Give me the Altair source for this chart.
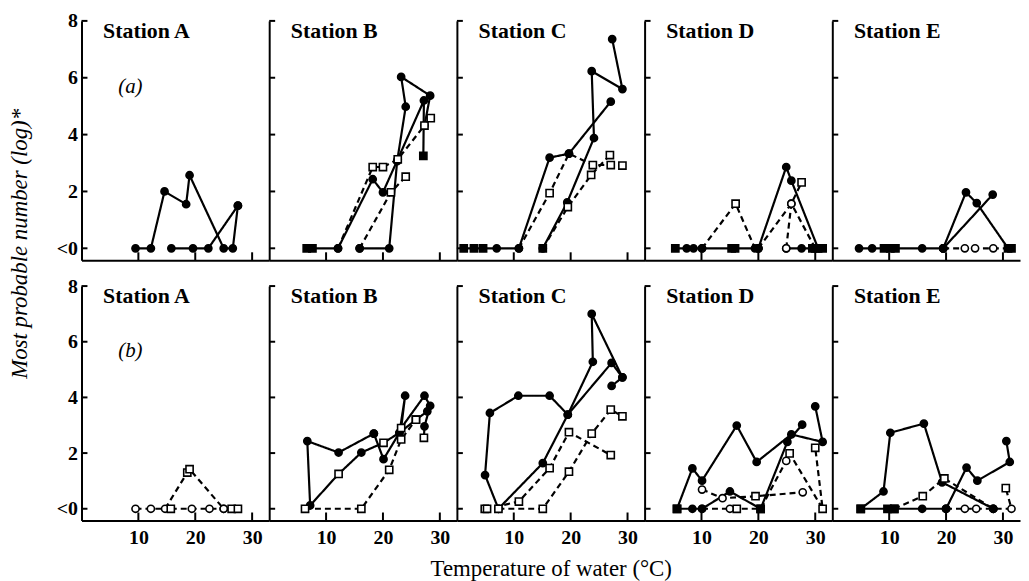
import altair as alt
import pandas as pd

SERIF = "Liberation Serif"
STATIONS = ["A", "B", "C", "D", "E"]
PARTS = ["a", "b"]
PART_LABELS = ["(a)", "(b)"]
X_TICKS = [10, 20, 30]
Y_TICKS = [0, 2, 4, 6, 8]
X_LABEL = "Temperature of water (°C)"
Y_LABEL = "Most probable number (log)*"

# ---------------- (a) row ----------------
aA1_x = [9.5, 12.2, 14.6, 18.4, 19.0, 25.0, 26.6, 27.5]
aA1_y = [0, 0, 2.0, 1.55, 2.57, 0, 0, 1.5]
aA2_x = [15.8, 19.6, 22.3, 27.5]
aA2_y = [0, 0, 0, 1.5]

aB1_x = [6.6, 7.6, 12.1, 18.2, 20.0, 22.6, 27.2, 27.1]
aB1_y = [0, 0, 0, 2.43, 1.97, 3.13, 5.2, 3.25]
aB1_m = ["fs", "fs", "fc", "fc", "fc", "fc", "fc", "fs"]
aB2_x = [15.9, 21.1, 22.5, 24.0, 23.2, 28.3, 27.3]
aB2_y = [0, 0, 3.07, 4.98, 6.03, 5.37, 4.32]
aB3_x = [12.1, 18.2, 20.0, 22.6, 27.3, 28.4]
aB3_y = [0, 2.86, 2.86, 3.13, 4.32, 4.58]
aB3_m = ["fc", "os", "os", "os", "os", "os"]
aB4_x = [15.9, 21.4, 24.0]
aB4_y = [0, 1.97, 2.52]
aB4_m = ["fc", "os", "os"]

aC1_x = [1.2, 3.0, 4.6, 7.0, 10.9, 16.3, 19.7, 27.05]
aC1_y = [0, 0, 0, 0, 0, 3.19, 3.33, 5.16]
aC1_m = ["fs", "fs", "fs", "fc", "fc", "fc", "fc", "fc"]
aC2_x = [15.1, 19.4, 24.1, 23.7, 29.1, 27.3]
aC2_y = [0, 1.62, 3.88, 6.23, 5.6, 7.36]
aC3_x = [10.9, 16.3, 19.7, 23.9, 27.05, 29.1]
aC3_y = [0, 1.94, 3.33, 2.93, 2.93, 2.91]
aC3_m = ["fc", "os", "fc", "os", "os", "os"]
aC4_x = [15.1, 19.5, 23.6, 26.9]
aC4_y = [0, 1.45, 2.58, 3.28]
aC4_m = ["fs", "os", "os", "os"]

aD1_x = [5.4, 7.4, 8.6, 10.1, 15.3, 15.9, 20.0]
aD1_y = [0, 0, 0, 0, 0, 0, 0]
aD1_m = ["fs", "fc", "fc", "fc", "fs", "fs", "fc"]
aD2_x = [20.0, 24.9, 25.8, 30.5, 31.3]
aD2_y = [0, 2.86, 2.38, 0, 0]
aD2_m = ["fc", "fc", "fc", "fs", "fs"]
aD3_x = [10.1, 16.0, 19.4]
aD3_y = [0, 1.57, 0]
aD3_m = ["fc", "os", "fc"]
aD4_x = [20.0, 25.8, 27.6]
aD4_y = [0, 1.57, 2.32]
aD4_m = ["fc", "oc", "os"]
aD5_x = [24.9, 25.8, 30.0]
aD5_y = [0, 1.57, 0]
aD5_m = ["oc", "oc", "fs"]
aD6_x = [24.9, 27.6, 29.5]
aD6_y = [0, 0, 0]
aD6_m = ["oc", "fc", "fs"]

aE1_x = [4.7, 7.0, 9.1, 10.2, 11.1, 15.8, 19.5]
aE1_y = [0, 0, 0, 0, 0, 0, 0]
aE1_m = ["fc", "fc", "fs", "fs", "fs", "fc", "fc"]
aE2_x = [19.5, 23.5, 25.4, 30.9]
aE2_y = [0, 1.97, 1.59, 0]
aE2_m = ["fc", "fc", "fc", "fs"]
aE3_x = [19.5, 28.2]
aE3_y = [0, 1.89]
aE4_x = [19.5, 23.3, 25.1, 28.3, 31.5]
aE4_y = [0, 0, 0, 0, 0]
aE4_m = ["fc", "oc", "oc", "oc", "fs"]

# ---------------- (b) row ----------------
bA1_x = [9.5, 12.2, 14.7, 18.6, 19.0, 25.0, 26.4, 27.5]
bA1_y = [0, 0, 0, 1.30, 1.42, 0, 0, 0]
bA1_m = ["oc", "oc", "oc", "os", "os", "oc", "os", "os"]
bA2_x = [15.7, 19.4, 22.5, 25.0]
bA2_y = [0, 0, 0, 0]
bA2_m = ["os", "oc", "oc", "oc"]

bB1_x = [18.4, 12.2, 6.7, 7.2, 12.2, 16.2, 20.1, 22.9, 25.8, 27.8]
bB1_y = [2.70, 2.02, 2.43, 0.12, 1.25, 2.02, 2.37, 2.73, 3.20, 3.50]
bB1_m = ["fc", "fc", "fc", "fc", "os", "fc", "os", "fc", "os", "fc"]
bB2_x = [18.4, 20.1, 22.9, 23.9, 23.2, 27.3, 28.3, 27.3, 27.2]
bB2_y = [2.70, 1.78, 2.73, 4.06, 2.90, 4.06, 3.70, 2.96, 2.55]
bB2_m = ["fc", "fc", "fc", "fc", "os", "fc", "fc", "fc", "os"]
bB3_x = [6.3, 16.2, 21.1, 23.2, 25.8]
bB3_y = [0, 0, 1.40, 2.49, 3.20]

bC1_x = [7.3, 4.95, 5.8, 10.8, 16.3, 19.5, 27.2, 29.1, 27.2]
bC1_y = [0, 1.21, 3.44, 4.06, 4.06, 3.38, 5.24, 4.72, 4.41]
bC2_x = [7.3, 15.1, 19.5, 23.9, 23.7, 29.1]
bC2_y = [0, 1.64, 3.38, 5.28, 7.0, 4.72]
bC3_x = [4.9, 5.3, 10.9, 16.3, 19.7, 27.05]
bC3_y = [0, 0, 0.26, 1.46, 2.75, 1.93]
bC4_x = [7.3, 15.1, 19.7, 23.7, 27.05, 29.1]
bC4_y = [0, 0, 1.33, 2.70, 3.56, 3.32]

bD1_x = [5.7, 8.4, 10.1, 16.2, 19.7, 25.8, 31.3, 30.0]
bD1_y = [0, 1.45, 1.01, 2.99, 1.68, 2.67, 2.40, 3.68]
bD1_m = ["fs", "fc", "fc", "fc", "fc", "fc", "fc", "fc"]
bD2_x = [5.7, 8.4, 10.1, 15.0, 20.4, 25.1, 27.7]
bD2_y = [0, 0, 0, 0.62, 0, 2.40, 3.02]
bD2_m = ["fs", "fc", "fc", "fc", "fs", "fc", "fc"]
bD3_x = [10.1, 13.7, 19.5, 27.8]
bD3_y = [0.69, 0.38, 0.45, 0.59]
bD3_m = ["oc", "oc", "os", "oc"]
bD4_x = [10.1, 15.0, 16.2, 20.4, 24.9, 25.5, 31.3, 30.0]
bD4_y = [0, 0, 0, 0, 1.72, 1.99, 0, 2.19]
bD4_m = ["fc", "oc", "os", "fs", "oc", "os", "os", "os"]

bE1_x = [5.0, 9.0, 10.2, 16.1, 19.3, 28.3]
bE1_y = [0, 0.62, 2.73, 3.06, 0.95, 0]
bE1_m = ["fs", "fc", "fc", "fc", "fc", "fc"]
bE2_x = [20.0, 23.6, 25.5, 31.2, 30.6]
bE2_y = [0, 1.48, 1.01, 1.68, 2.43]
bE3_x = [5.0, 9.7, 10.9, 15.8, 20.0]
bE3_y = [0, 0, 0, 0, 0]
bE3_m = ["fs", "fs", "fs", "fc", "fc"]
bE4_x = [10.9, 15.9, 19.7, 28.3]
bE4_y = [0, 0.45, 1.09, 0]
bE4_m = ["fs", "os", "os", "fc"]
bE5_x = [20.0, 23.3, 25.3, 28.3, 31.5, 30.5]
bE5_y = [0, 0, 0, 0, 0, 0.74]
bE5_m = ["fc", "oc", "oc", "fc", "oc", "os"]

SERIES = [
    ("a", "A", "solid", "fc", aA1_x, aA1_y),
    ("a", "A", "solid", "fc", aA2_x, aA2_y),
    ("a", "B", "solid", aB1_m, aB1_x, aB1_y),
    ("a", "B", "solid", "fc", aB2_x, aB2_y),
    ("a", "B", "dashed", aB3_m, aB3_x, aB3_y),
    ("a", "B", "dashed", aB4_m, aB4_x, aB4_y),
    ("a", "C", "solid", aC1_m, aC1_x, aC1_y),
    ("a", "C", "solid", "fc", aC2_x, aC2_y),
    ("a", "C", "dashed", aC3_m, aC3_x, aC3_y),
    ("a", "C", "dashed", aC4_m, aC4_x, aC4_y),
    ("a", "D", "solid", aD1_m, aD1_x, aD1_y),
    ("a", "D", "solid", aD2_m, aD2_x, aD2_y),
    ("a", "D", "dashed", aD3_m, aD3_x, aD3_y),
    ("a", "D", "dashed", aD4_m, aD4_x, aD4_y),
    ("a", "D", "dashed", aD5_m, aD5_x, aD5_y),
    ("a", "D", "solid", aD6_m, aD6_x, aD6_y),
    ("a", "E", "solid", aE1_m, aE1_x, aE1_y),
    ("a", "E", "solid", aE2_m, aE2_x, aE2_y),
    ("a", "E", "solid", "fc", aE3_x, aE3_y),
    ("a", "E", "dashed", aE4_m, aE4_x, aE4_y),
    ("b", "A", "dashed", bA1_m, bA1_x, bA1_y),
    ("b", "A", "dashed", bA2_m, bA2_x, bA2_y),
    ("b", "B", "solid", bB1_m, bB1_x, bB1_y),
    ("b", "B", "solid", bB2_m, bB2_x, bB2_y),
    ("b", "B", "dashed", "os", bB3_x, bB3_y),
    ("b", "C", "solid", "fc", bC1_x, bC1_y),
    ("b", "C", "solid", "fc", bC2_x, bC2_y),
    ("b", "C", "dashed", "os", bC3_x, bC3_y),
    ("b", "C", "dashed", "os", bC4_x, bC4_y),
    ("b", "D", "solid", bD1_m, bD1_x, bD1_y),
    ("b", "D", "solid", bD2_m, bD2_x, bD2_y),
    ("b", "D", "dashed", bD3_m, bD3_x, bD3_y),
    ("b", "D", "dashed", bD4_m, bD4_x, bD4_y),
    ("b", "E", "solid", bE1_m, bE1_x, bE1_y),
    ("b", "E", "solid", "fc", bE2_x, bE2_y),
    ("b", "E", "solid", bE3_m, bE3_x, bE3_y),
    ("b", "E", "dashed", bE4_m, bE4_x, bE4_y),
    ("b", "E", "dashed", bE5_m, bE5_x, bE5_y),
]

rows = []
for k, (part, st, style, mk, xs_, ys_) in enumerate(SERIES):
    marks = mk if isinstance(mk, list) else [mk] * len(xs_)
    for i, (xv, yv, m) in enumerate(zip(xs_, ys_, marks)):
        rows.append(dict(part=part, station=st, sid=f"s{k}", style=style,
                         marker=m, seq=i, x=xv, y=yv))
df = pd.DataFrame(rows)

W = 189
HEIGHTS = [241, 236]
XDOM = [0, 33]
YDOM = [-0.42, 8]


def panel(pi, si):
    part = PARTS[pi]
    st = STATIONS[si]
    h = HEIGHTS[pi]
    d = df[(df.part == part) & (df.station == st)]
    xs = alt.Scale(domain=XDOM, nice=False, zero=False)
    ys = alt.Scale(domain=YDOM, nice=False, zero=False)

    xkw = dict(values=X_TICKS, ticks=False, grid=False, labels=(pi == 1),
               labelPadding=7, labelFlush=False)
    xtitle = None
    if pi == 1 and st == "C":
        xtitle = X_LABEL
        xkw.update(titleY=55, titleBaseline="alphabetic")
    ykw = dict(values=Y_TICKS, ticks=False, grid=False, labels=(si == 0),
               labelPadding=4, labelFlush=False,
               labelExpr="datum.value == 0 ? '<0' : datum.label")
    ytitle = None
    if si == 0 and pi == 0:
        ytitle = Y_LABEL
        ykw.update(titleX=-62, titleY=224, titleAngle=270,
                   titleBaseline="middle", titleAlign="center",
                   titleFontStyle="italic")

    def X(field="x:Q"):
        return alt.X(field, scale=xs, axis=alt.Axis(**xkw), title=xtitle)

    def Y(field="y:Q"):
        return alt.Y(field, scale=ys, axis=alt.Axis(**ykw), title=ytitle)

    def XD(v):
        return alt.XDatum(v, scale=xs, axis=alt.Axis(**xkw), title=xtitle)

    def YD(v):
        return alt.YDatum(v, scale=ys, axis=alt.Axis(**ykw), title=ytitle)

    line = alt.Chart(d).mark_line(color="black", strokeWidth=2.2).encode(
        x=X(), y=Y(),
        detail="sid:N",
        order="seq:Q",
        strokeDash=alt.StrokeDash(
            "style:N",
            scale=alt.Scale(domain=["solid", "dashed"], range=[[1, 0], [6, 4]]),
            legend=None),
    )
    pts = alt.Chart(d).mark_point(filled=True, stroke="black", strokeWidth=1.6,
                                  size=52, opacity=1).encode(
        x=X(), y=Y(),
        shape=alt.Shape("marker:N", scale=alt.Scale(
            domain=["fc", "fs", "os", "oc"],
            range=["circle", "square", "square", "circle"]), legend=None),
        fill=alt.Fill("marker:N", scale=alt.Scale(
            domain=["fc", "fs", "os", "oc"],
            range=["black", "black", "white", "white"]), legend=None),
    )
    ytk = alt.Chart(pd.DataFrame({"y": Y_TICKS})).mark_rule(
        color="black", strokeWidth=2).encode(
        y=Y(), x=alt.value(0), x2=alt.value(6))
    xtk = alt.Chart(pd.DataFrame({"x": X_TICKS})).mark_rule(
        color="black", strokeWidth=2).encode(
        x=X(), y=alt.value(h), y2=alt.value(h - 8))
    title = alt.Chart(pd.DataFrame({"t": [f"Station {st}"]})).mark_text(
        align="left", baseline="alphabetic", font=SERIF, fontSize=22,
        fontWeight="bold", color="black").encode(
        x=XD(3.8), y=YD(7.4), text="t:N")
    layers = [line, pts, ytk, xtk, title]
    if si == 0:
        lab = alt.Chart(pd.DataFrame({"t": [PART_LABELS[pi]]})).mark_text(
            align="center", baseline="alphabetic", font=SERIF, fontSize=21,
            fontStyle="italic", color="black").encode(
            x=XD(8.6), y=YD(5.45), text="t:N")
        layers.append(lab)
    return alt.layer(*layers).properties(width=W, height=h)


panels = [panel(pi, si) for pi in range(2) for si in range(5)]

chart = alt.concat(*panels, columns=5, spacing={"row": 26, "column": 0},
                   bounds="flush").properties(
    padding={"left": 0, "top": 0, "right": 0, "bottom": 0}
).configure_view(stroke="transparent").configure_axis(
    domainColor="black", domainWidth=2,
    labelFont=SERIF, labelFontSize=20, labelFontWeight="bold", labelColor="black",
    titleFont=SERIF, titleFontSize=23, titleFontWeight="normal", titleColor="black",
)

chart.save("out.html", embed_options={"renderer": "svg", "actions": False})
